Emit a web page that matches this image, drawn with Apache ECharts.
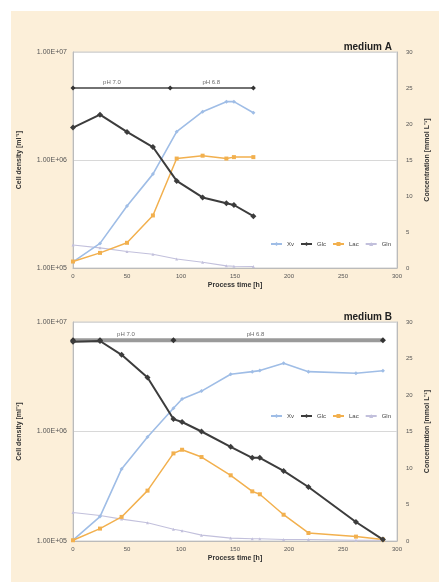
<!DOCTYPE html>
<html><head><meta charset="utf-8">
<script src="https://cdn.jsdelivr.net/npm/echarts@6/dist/echarts.min.js"></script>
<style>html,body{margin:0;padding:0;background:#fff}#c{width:439px;height:583px}</style>
</head><body><div id="c"></div>
<script>
// ---- data: medium A ----
const timeA = [0, 25, 50, 74, 96, 120, 142, 149, 167];
const xvA   = [1.14e5, 1.69e5, 3.75e5, 7.4e5, 1.83e6, 2.8e6, 3.47e6, 3.47e6, 2.74e6];
const glcA  = [19.5, 21.3, 18.9, 16.8, 12.1, 9.8, 9.0, 8.75, 7.2];
const lacA  = [0.9, 2.1, 3.5, 7.3, 15.2, 15.6, 15.2, 15.4, 15.4];
const glnA  = [3.2, 2.8, 2.3, 1.9, 1.25, 0.8, 0.3, 0.25, 0.2];
const phTimeA = [0, 90, 167];
const phLevelA = 25;
const phLabelA = [[36, 'pH 7.0'], [128, 'pH 6.8']];
// ---- data: medium B ----
const timeB = [0, 25, 45, 69, 93, 101, 119, 146, 166, 173, 195, 218, 262, 287];
const xvB   = [1.02e5, 1.67e5, 4.55e5, 8.9e5, 1.63e6, 1.98e6, 2.34e6, 3.33e6, 3.52e6, 3.6e6, 4.2e6, 3.52e6, 3.4e6, 3.59e6];
const glcB  = [27.3, 27.4, 25.5, 22.4, 16.7, 16.3, 15.0, 12.9, 11.4, 11.4, 9.6, 7.4, 2.6, 0.2];
const lacB  = [0.1, 1.7, 3.3, 6.9, 12.0, 12.5, 11.5, 9.0, 6.8, 6.4, 3.6, 1.1, 0.6, 0.2];
const glnB  = [3.9, 3.5, 3.0, 2.5, 1.6, 1.4, 0.8, 0.4, 0.3, 0.3, 0.2, 0.2, 0.1, 0.1];
const phTimeB = [0, 25, 93, 287];
const phLevelB = 27.5;
const phLabelB = [[49, 'pH 7.0'], [169, 'pH 6.8']];
// ---- axes ----
const xTicks = [0, 50, 100, 150, 200, 250, 300];
const concMax = 30, concStep = 5;
const seriesNames = ['Xv', 'Glc', 'Lac', 'Gln'];
const titles = ['medium A', 'medium B'];

const COL = {Xv:'#9fbde6', Glc:'#3c3c3c', Lac:'#f2b04e', Gln:'#c2c0dc'};
const zip = (t, v) => t.map((x, i) => [x, v[i]]);
const FONT = 'Liberation Sans';

function mkSeries(g, time, xv, glc, lac, gln, phT, phL, phLab, bottomPh) {
  const ax = g * 2;
  return [
    {name:'pH', type:'line', xAxisIndex:g, yAxisIndex:ax+1, data:phT.map(t=>[t, phL]),
     symbol:'diamond', symbolSize: bottomPh?6:5, showSymbol:true,
     lineStyle:{color: bottomPh?'#9a9a9a':'#444', width: bottomPh?4:1.6},
     itemStyle:{color:'#333'}, z:3, silent:true},
    {name:'phlab', type:'scatter', xAxisIndex:g, yAxisIndex:ax+1,
     data:phLab.map(d=>({value:[d[0], phL], name:d[1]})), symbolSize:0,
     label:{show:true, position:'top', distance:3, formatter:p=>p.name, fontSize:6, color:'#444', fontFamily:FONT}, silent:true},
    {name:'Xv', type:'line', xAxisIndex:g, yAxisIndex:ax, data:zip(time, xv),
     symbol:'diamond', symbolSize:4, lineStyle:{color:COL.Xv, width:1.6}, itemStyle:{color:COL.Xv}, z:4},
    {name:'Glc', type:'line', xAxisIndex:g, yAxisIndex:ax+1, data:zip(time, glc),
     symbol:'diamond', symbolSize:6, lineStyle:{color:COL.Glc, width:2}, itemStyle:{color:COL.Glc}, z:5},
    {name:'Lac', type:'line', xAxisIndex:g, yAxisIndex:ax+1, data:zip(time, lac),
     symbol:'rect', symbolSize:4, lineStyle:{color:COL.Lac, width:1.5}, itemStyle:{color:COL.Lac}, z:4},
    {name:'Gln', type:'line', xAxisIndex:g, yAxisIndex:ax+1, data:zip(time, gln),
     symbol:'triangle', symbolSize:3, lineStyle:{color:COL.Gln, width:1.1}, itemStyle:{color:COL.Gln}, z:3}
  ];
}

const labelStyle = {fontSize:6, color:'#555', fontFamily:FONT};
function xAxis(g){
  return {type:'value', gridIndex:g, min:xTicks[0], max:xTicks[xTicks.length-1], interval:xTicks[1]-xTicks[0],
    name:'Process time [h]', nameLocation:'middle', nameGap:14,
    nameTextStyle:{fontSize:7, fontWeight:'bold', color:'#333', fontFamily:FONT},
    axisLine:{lineStyle:{color:'#bbb'}}, axisTick:{show:false}, splitLine:{show:false},
    axisLabel:Object.assign({margin:5}, labelStyle)};
}
function yAxes(g){
  return [
    {type:'log', logBase:10, gridIndex:g, min:1e5, max:1e7, position:'left',
     name:'Cell density [ml⁻¹]', nameLocation:'middle', nameGap:50,
     nameTextStyle:{fontSize:7, fontWeight:'bold', color:'#333', fontFamily:FONT},
     axisLine:{show:true, lineStyle:{color:'#bbb'}}, axisTick:{show:false}, minorTick:{show:false},
     splitLine:{show:true, lineStyle:{color:'#d8d8d8', width:1}},
     axisLabel:{margin:6, fontSize:7, color:'#555', fontFamily:FONT, formatter:v=>{const e=Math.round(Math.log10(v));return '1.00E+' + String(e).padStart(2,'0');}}},
    {type:'value', gridIndex:g, min:0, max:concMax, interval:concStep, position:'right',
     name:'Concentration [mmol L⁻¹]', nameLocation:'middle', nameGap:27,
     nameTextStyle:{fontSize:7, fontWeight:'bold', color:'#333', fontFamily:FONT},
     axisLine:{show:true, lineStyle:{color:'#bbb'}}, axisTick:{show:false}, splitLine:{show:false},
     axisLabel:Object.assign({margin:9}, labelStyle)}
  ];
}

const chart = echarts.init(document.getElementById('c'), null, {renderer:'canvas'});
chart.setOption({
  backgroundColor:'#ffffff',
  animation:false,
  graphic:[
    {type:'rect', shape:{x:11, y:11, width:428, height:571}, style:{fill:'#fcefd9'}, z:-10, silent:true}
  ],
  title:[
    {text:titles[0], right:42, top:37, textStyle:{fontSize:10, fontWeight:'bold', color:'#222', fontFamily:FONT}},
    {text:titles[1], right:42, top:307, textStyle:{fontSize:10, fontWeight:'bold', color:'#222', fontFamily:FONT}}
  ],
  legend:[
    {data:seriesNames, left:265, top:236, itemWidth:11, itemHeight:5, itemGap:6, textStyle:{fontSize:6, color:'#444', fontFamily:FONT}},
    {data:seriesNames, left:265, top:408, itemWidth:11, itemHeight:5, itemGap:6, textStyle:{fontSize:6, color:'#444', fontFamily:FONT}}
  ],
  grid:[
    {left:73, right:36, top:52, height:216, show:true, backgroundColor:'#ffffff', borderColor:'#cfcfcf', borderWidth:1},
    {left:73, right:36, top:322, height:219, show:true, backgroundColor:'#ffffff', borderColor:'#cfcfcf', borderWidth:1}
  ],
  xAxis:[xAxis(0), xAxis(1)],
  yAxis:[...yAxes(0), ...yAxes(1)],
  series:[
    ...mkSeries(0, timeA, xvA, glcA, lacA, glnA, phTimeA, phLevelA, phLabelA, false),
    ...mkSeries(1, timeB, xvB, glcB, lacB, glnB, phTimeB, phLevelB, phLabelB, true)
  ]
});
</script></body></html>
